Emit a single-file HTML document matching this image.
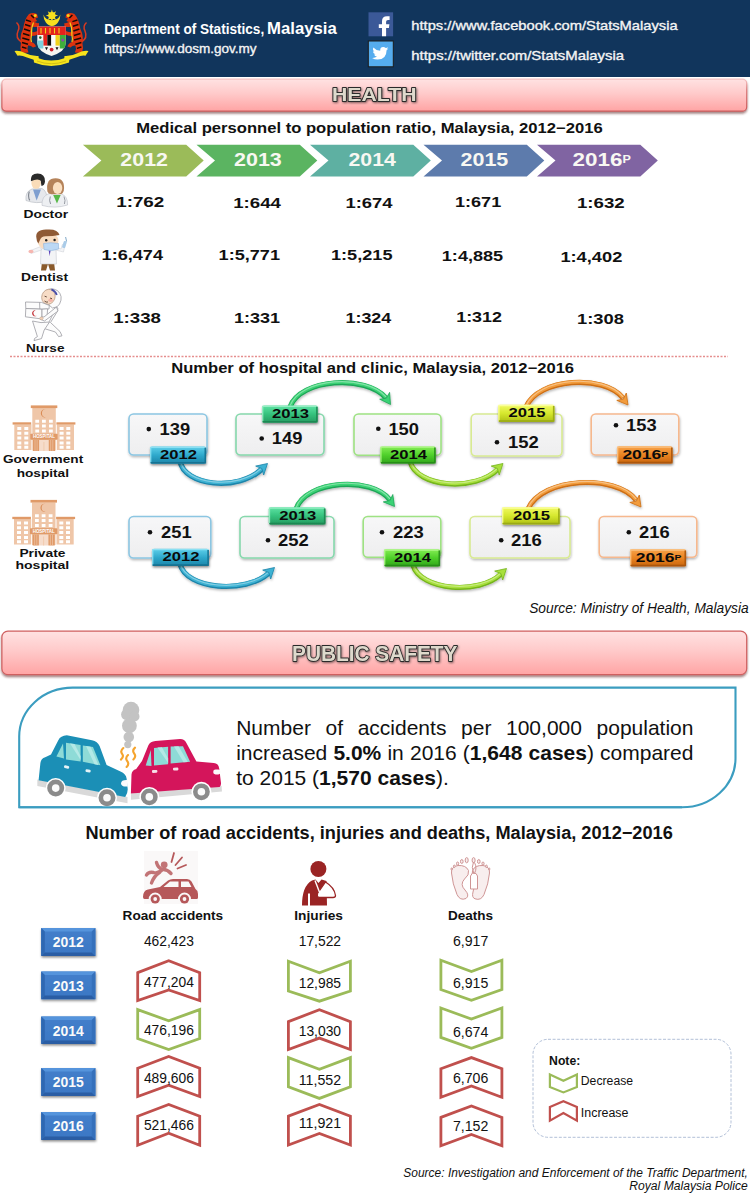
<!DOCTYPE html>
<html lang="en">
<head>
<meta charset="utf-8">
<title>Department of Statistics, Malaysia - Health and Public Safety</title>
<style>
html,body{margin:0;padding:0;background:#fff;}
body{width:750px;height:1200px;overflow:hidden;position:relative;font-family:'Liberation Sans', Arial, sans-serif;}
svg{position:absolute;left:0;top:0;display:block;font-family:'Liberation Sans', Arial, sans-serif;}
svg text{white-space:pre;}
#para{position:absolute;left:236.2px;top:714.5px;width:457.3px;font-size:21px;line-height:25.3px;color:#111;text-align:justify;margin:0;}
#para b{font-weight:bold;}
</style>
</head>
<body>
<svg width="750" height="1200" viewBox="0 0 750 1200">

<defs>
  <linearGradient id="gBanner" x1="0" y1="0" x2="0" y2="1">
    <stop offset="0" stop-color="#ffe2e2"/><stop offset="0.45" stop-color="#ffcaca"/><stop offset="1" stop-color="#ffa4a4"/>
  </linearGradient>
  <linearGradient id="gBannerStroke" x1="0" y1="0" x2="0" y2="1">
    <stop offset="0" stop-color="#f6c4c4"/><stop offset="0.35" stop-color="#dc7c7c"/><stop offset="1" stop-color="#cc5a5a"/>
  </linearGradient>
  <filter id="shBanner" x="-5%" y="-20%" width="110%" height="160%">
    <feDropShadow dx="0" dy="2" stdDeviation="1.2" flood-color="#5a2020" flood-opacity="0.55"/>
  </filter>
  <filter id="shSoft" x="-20%" y="-20%" width="140%" height="160%">
    <feDropShadow dx="0.5" dy="1.5" stdDeviation="1.3" flood-color="#000" flood-opacity="0.28"/>
  </filter>
  <filter id="shTag" x="-20%" y="-30%" width="140%" height="180%">
    <feDropShadow dx="0.5" dy="1.5" stdDeviation="1" flood-color="#000" flood-opacity="0.45"/>
  </filter>
  <filter id="shTxt" x="-20%" y="-30%" width="140%" height="180%">
    <feDropShadow dx="0.8" dy="1" stdDeviation="0.9" flood-color="#000" flood-opacity="0.5"/>
  </filter>
  <filter id="blur05"><feGaussianBlur stdDeviation="0.5"/></filter>
  <filter id="blur1"><feGaussianBlur stdDeviation="1"/></filter>
  <linearGradient id="gBlueTag" x1="0" y1="0" x2="0" y2="1">
    <stop offset="0" stop-color="#5fd0ea"/><stop offset="0.5" stop-color="#2fa9cc"/><stop offset="1" stop-color="#1b84a8"/>
  </linearGradient>
  <linearGradient id="gGreenTag" x1="0" y1="0" x2="0" y2="1">
    <stop offset="0" stop-color="#5fe3a4"/><stop offset="0.5" stop-color="#35c27d"/><stop offset="1" stop-color="#259a60"/>
  </linearGradient>
  <linearGradient id="gLimeTag" x1="0" y1="0" x2="0" y2="1">
    <stop offset="0" stop-color="#86ee55"/><stop offset="0.5" stop-color="#4fd02a"/><stop offset="1" stop-color="#2fa41a"/>
  </linearGradient>
  <linearGradient id="gYellowTag" x1="0" y1="0" x2="0" y2="1">
    <stop offset="0" stop-color="#f2fa62"/><stop offset="0.5" stop-color="#d6e82e"/><stop offset="1" stop-color="#aebf14"/>
  </linearGradient>
  <linearGradient id="gOrangeTag" x1="0" y1="0" x2="0" y2="1">
    <stop offset="0" stop-color="#f8a34a"/><stop offset="0.5" stop-color="#ea8422"/><stop offset="1" stop-color="#c9650e"/>
  </linearGradient>
  <linearGradient id="gBox" x1="0" y1="0" x2="0" y2="1">
    <stop offset="0" stop-color="#f7f7f8"/><stop offset="1" stop-color="#eeeeef"/>
  </linearGradient>
  <linearGradient id="gBtn" x1="0" y1="0" x2="0" y2="1">
    <stop offset="0" stop-color="#447fcb"/><stop offset="1" stop-color="#3a77c4"/>
  </linearGradient>
</defs>
<rect x="0" y="0" width="750" height="77" fill="#11355c"/>
<g id="crest">
<path d="M21.5,42 Q15,38 18,31 Q20.5,26 16.5,22.5" fill="none" stroke="#d83a20" stroke-width="1.5"/>
<path d="M81.5,42 Q88,38 85,31 Q82.5,26 86.5,22.5" fill="none" stroke="#d83a20" stroke-width="1.5"/>
<path d="M29,14 Q33,12 37,14 L38,17.5 L35.5,18.5 L37,21 L34.5,22 Q37,23.5 39,23 L39,26.5 Q35,27.5 32.5,26.5 Q31,29 31.5,32 Q35,32.5 37.5,31 L38.5,34 Q35,36.5 31,36 Q30,39 31.5,42 Q35,43 36,46.5 L33,47.5 Q30.5,45 28,45.5 Q26.5,49 28.5,52.5 L21.5,53 Q19.5,48 21,43 Q19.5,36 23,29 Q24.5,19 29,14 Z" fill="#dc320e"/>
<path d="M26,20 l5,1.6 M25,24.5 l5.5,1.8 M24,29 l6,2 M23,33.5 l6.5,2 M22.3,38 l7,2 M22,42.5 l6,1.8 M22,47 l4.5,1.4 M31,15 l3,3" stroke="#140a06" stroke-width="1.5" fill="none"/>
<path d="M33.5,22.5 Q31,28 31.5,35 Q30.5,39 31.5,42" stroke="#f3d21a" stroke-width="1.1" fill="none"/>
<circle cx="35.2" cy="15.6" r="1.5" fill="#f3d21a"/>
<g transform="translate(103.4,0) scale(-1,1)"><path d="M29,14 Q33,12 37,14 L38,17.5 L35.5,18.5 L37,21 L34.5,22 Q37,23.5 39,23 L39,26.5 Q35,27.5 32.5,26.5 Q31,29 31.5,32 Q35,32.5 37.5,31 L38.5,34 Q35,36.5 31,36 Q30,39 31.5,42 Q35,43 36,46.5 L33,47.5 Q30.5,45 28,45.5 Q26.5,49 28.5,52.5 L21.5,53 Q19.5,48 21,43 Q19.5,36 23,29 Q24.5,19 29,14 Z" fill="#dc320e"/><path d="M26,20 l5,1.6 M25,24.5 l5.5,1.8 M24,29 l6,2 M23,33.5 l6.5,2 M22.3,38 l7,2 M22,42.5 l6,1.8 M22,47 l4.5,1.4 M31,15 l3,3" stroke="#140a06" stroke-width="1.5" fill="none"/><path d="M33.5,22.5 Q31,28 31.5,35 Q30.5,39 31.5,42" stroke="#f3d21a" stroke-width="1.1" fill="none"/><circle cx="35.2" cy="15.6" r="1.5" fill="#f3d21a"/></g>
<path d="M14.5,51 Q19,50 25,53 Q32,56.5 38.5,56 L39,60.5 Q33,60 27,57.5 Q21,55 17.5,55.8 Z" fill="#f6e31c"/>
<path d="M88.5,51 Q84,50 78,53 Q71,56.5 64.5,56 L64,60.5 Q70,60 76,57.5 Q82,55 85.5,55.8 Z" fill="#f6e31c"/>
<path d="M33.5,58 Q34,56.5 36,57.5 Q51,63.5 67,57.5 Q69,56.5 69.5,58 L69,62.5 Q51,69.5 34,62.5 Z" fill="#f6e31c"/>
<path d="M37,61 Q51,66.5 66,61" fill="none" stroke="#b8a410" stroke-width="0.6"/>
<path d="M43.4,14.5 A8.5,11.4 0 0 0 60.4,14.5 A8.8,7.6 0 0 1 43.4,14.5 Z" fill="#f8df1e"/>
<polygon points="51.9,9.6 53,13 56.1,11.2 54.6,14.4 58.1,15.6 54.6,16.8 56.1,20 53,18.4 51.9,21.6 50.8,18.4 47.7,20 49.2,16.8 45.7,15.6 49.2,14.4 47.7,11.2 50.8,13" fill="#f8df1e"/>
<circle cx="51.9" cy="15.6" r="3.6" fill="#f8df1e"/>
<path d="M37.3,26.5 L65.8,26.5 L65.8,43 Q65.5,51.5 51.6,56 Q37.6,51.5 37.3,43 Z" fill="#f7f6f2"/>
<path d="M37.3,26.5 H65.8 V35 H37.3 Z" fill="#e4231c"/>
<path d="M41,28 v5.6 M45.5,28 v5.6 M50,28 v5.6 M54.5,28 v5.6 M59,28 v5.6" stroke="#f2d21c" stroke-width="1.1"/>
<rect x="43.3" y="35" width="4" height="10.6" fill="#e4231c"/><rect x="47.3" y="35" width="4" height="10.6" fill="#0d0d0d"/><rect x="51.3" y="35" width="4.2" height="10.6" fill="#fbfbfb"/><rect x="55.5" y="35" width="4.3" height="10.6" fill="#f2d21c"/>
<path d="M59.8,35 H65.8 V43 Q65.7,46 64,48.5 L59.8,48.5 Z" fill="#3fae3a"/>
<path d="M37.3,40.5 H43.3 V48.5 L39,48.5 Q37.4,46 37.3,43 Z" fill="#7fd0dc"/>
<circle cx="40.3" cy="37.6" r="1.3" fill="#2a6a2a"/><circle cx="62.8" cy="40" r="1.6" fill="#8a4aa8"/>
<path d="M45,47.2 l3,0 l-1.5,3 z M55.5,47.2 l3,0 l-1.5,3 z" fill="#1a1a1a"/><circle cx="51.6" cy="49.6" r="1.9" fill="#d21f2a"/>
</g>
<text x="104.2" y="34.0" font-size="15.08" font-weight="bold" font-style="normal" fill="#fff" textLength="160.0" lengthAdjust="spacingAndGlyphs" >Department of Statistics,</text>
<text x="267.1" y="34.0" font-size="17.16" font-weight="bold" font-style="normal" fill="#fff" textLength="69.7" lengthAdjust="spacingAndGlyphs" >Malaysia</text>
<text x="104.3" y="52.5" font-size="13.0" font-weight="normal" font-style="normal" fill="#f4f4f4" textLength="152.3" lengthAdjust="spacingAndGlyphs" stroke="#f4f4f4" stroke-width="0.35">https://www.dosm.gov.my</text>
<rect x="368.5" y="12.3" width="24.6" height="24" fill="#3b5998"/>
<path d="M382,36.3 V28 H378.8 V24.2 H382 V21.2 Q382,16.3 387,16.3 H389.6 V19.9 H388 Q386.1,19.9 386.1,21.8 V24.2 H389.4 L388.9,28 H386.1 V36.3 Z" fill="#fff"/>
<rect x="368.3" y="41" width="25" height="25.8" fill="#55acee" stroke="#1c1c1c" stroke-width="1"/>
<path d="M388.6,48.6 Q387.6,49.1 386.5,49.2 Q387.7,48.5 388.1,47.2 Q387,47.9 385.8,48.1 Q384.7,47 383.2,47 Q380.2,47 380.2,50 Q380.2,50.4 380.3,50.8 Q376,50.6 373.4,47.5 Q372.2,49.9 374.4,51.6 Q373.6,51.6 372.9,51.2 Q373,53.7 375.5,54.4 Q374.8,54.6 374,54.5 Q374.7,56.5 377,56.6 Q375,58.2 372,58 Q374.6,59.6 377.6,59.6 Q386.5,59.4 386.6,50.2 Q387.8,49.5 388.6,48.6 Z" fill="#fff"/>
<text x="411.3" y="30.2" font-size="13.0" font-weight="normal" font-style="normal" fill="#f4f4f4" textLength="266.3" lengthAdjust="spacingAndGlyphs" stroke="#f4f4f4" stroke-width="0.35">https://www.facebook.com/StatsMalaysia</text>
<text x="411.3" y="59.7" font-size="13.0" font-weight="normal" font-style="normal" fill="#f4f4f4" textLength="212.8" lengthAdjust="spacingAndGlyphs" stroke="#f4f4f4" stroke-width="0.35">https://twitter.com/StatsMalaysia</text>
<rect x="1.9" y="79.1" width="744.8" height="32.0" rx="4.2" fill="url(#gBanner)" stroke="url(#gBannerStroke)" stroke-width="1.2" filter="url(#shBanner)"/>
<text x="332" y="101.2" font-size="19" font-weight="bold" textLength="84.5" lengthAdjust="spacingAndGlyphs" fill="#ded9cc" stroke="#2a2a2a" stroke-width="1.8" paint-order="stroke" stroke-linejoin="round" filter="url(#shTxt)">HEALTH</text>
<text x="136.2" y="132.8" font-size="14.56" font-weight="bold" font-style="normal" fill="#111" textLength="466.5" lengthAdjust="spacingAndGlyphs" >Medical personnel to population ratio, Malaysia, 2012−2016</text>
<polygon points="82.9,144.8 186.2,144.8 203.7,160.6 186.2,176.4 82.9,176.4 101.4,160.6" fill="#9bbb59"/>
<polygon points="196.5,144.8 299.8,144.8 317.3,160.6 299.8,176.4 196.5,176.4 215.0,160.6" fill="#5bb461"/>
<polygon points="310.0,144.8 413.3,144.8 430.8,160.6 413.3,176.4 310.0,176.4 328.5,160.6" fill="#5eb0a2"/>
<polygon points="423.5,144.8 526.8,144.8 544.3,160.6 526.8,176.4 423.5,176.4 442.0,160.6" fill="#5d7bac"/>
<polygon points="537.0,144.8 640.3,144.8 657.8,160.6 640.3,176.4 537.0,176.4 555.5,160.6" fill="#8064a2"/>
<text x="120.3" y="165.9" font-size="17.89" font-weight="bold" font-style="normal" fill="#f8f8f2" textLength="47.7" lengthAdjust="spacingAndGlyphs" >2012</text>
<text x="234.0" y="165.9" font-size="17.89" font-weight="bold" font-style="normal" fill="#f8f8f2" textLength="47.8" lengthAdjust="spacingAndGlyphs" >2013</text>
<text x="348.5" y="165.9" font-size="17.89" font-weight="bold" font-style="normal" fill="#f8f8f2" textLength="47.3" lengthAdjust="spacingAndGlyphs" >2014</text>
<text x="460.5" y="165.9" font-size="17.89" font-weight="bold" font-style="normal" fill="#f8f8f2" textLength="47.8" lengthAdjust="spacingAndGlyphs" >2015</text>
<text x="572.5" y="165.9" font-size="17.89" font-weight="bold" font-style="normal" fill="#f8f8f2" textLength="58.3" lengthAdjust="spacingAndGlyphs" >2016<tspan font-size="10" dy="-2.6">P</tspan></text>
<g id="doctor">
<path d="M26,200.5 Q25,191.5 32,189 L42,188.5 Q47.5,191 47,201 Q37,204.5 26,200.5 Z" fill="#e6e8ec" stroke="#b4b8c0" stroke-width="0.6"/>
<path d="M33,189.5 L36.6,200.5 L41,189.5 Z" fill="#7f9fd0"/>
<path d="M29.3,191.5 Q27.6,197 29.8,200.4" stroke="#7d838d" stroke-width="1.1" fill="none"/>
<path d="M30.8,180.5 Q30.4,173.4 37.5,173.4 Q45.4,173.6 45,181.5 Q44.6,185.6 41.5,186 L40.5,180 Q36,177.6 30.8,180.5 Z" fill="#2b2b2b"/>
<ellipse cx="36.1" cy="183.1" rx="4.7" ry="5.7" fill="#f9dcb8"/>
<path d="M30.9,181.2 Q31,175.5 37.5,175.2 Q42.5,175.6 41.3,181 Q38,177.8 30.9,181.2 Z" fill="#2b2b2b"/>
<path d="M42,205.4 Q41.4,196.2 49,193.6 L60.5,193.4 Q68,196 67.6,205 Q55,209 42,205.4 Z" fill="#edeff2" stroke="#bcc0c8" stroke-width="0.6"/>
<path d="M53.2,194.9 L57,203.6 L60.7,194.9 Z" fill="#58b848"/>
<path d="M50.3,196.5 Q48.8,200.6 50.6,204" stroke="#8d929b" stroke-width="1" fill="none"/><path d="M64,196.5 Q65.8,200.8 64.4,204" stroke="#9a9ea6" stroke-width="1" fill="none"/>
<path d="M47.4,191.5 Q45.5,178.3 55.6,178.3 Q65.4,178.5 63.8,190.5 Q63,194 60,194.2 L51.5,194.2 Q48.2,194 47.4,191.5 Z" fill="#b5835a"/>
<ellipse cx="57.6" cy="188" rx="4.7" ry="5.9" fill="#fbe0c2"/>
</g>
<g id="dentist">
<path d="M42,262 L41,270.5 L46,270.5 L48,264 L50,270.5 L55,270.5 L54,262 Z" fill="#8a5a2b"/>
<path d="M41,249 Q47,246.5 56,249 L56.5,264 L40.5,264 Z" fill="#f3f4f6" stroke="#c8cbd2" stroke-width="0.6"/>
<path d="M41.5,250 L31,253.5 L30.5,250.5 L40,246.8 Z" fill="#f3f4f6" stroke="#c8cbd2" stroke-width="0.5"/>
<path d="M55.5,250 L63.5,252 L65,245 L62.3,244.5 L61,249 L56,247 Z" fill="#f3f4f6" stroke="#c8cbd2" stroke-width="0.5"/>
<ellipse cx="31" cy="251.5" rx="2.6" ry="1.8" fill="#f6b6b0"/>
<path d="M48.6,249.5 L49.6,256 L50.8,249.5 Z" fill="#5a3fb8"/>
<rect x="63" y="241" width="3.2" height="7" rx="1" fill="#a9cbe8" transform="rotate(18 64.5 244)"/>
<path d="M65.6,237 L66.6,241.5" stroke="#7fa8c8" stroke-width="1"/>
<ellipse cx="48" cy="241" rx="10.5" ry="9" fill="#f9dcc0"/>
<path d="M36.5,238.5 Q34.5,230 46,229.6 Q58,228.5 59.5,235 Q53,236.2 45.5,236.2 Q41,236.5 40,240 L38.3,243.5 Q36.6,241.5 36.5,238.5 Z" fill="#8f5a35"/>
<circle cx="46.2" cy="240.3" r="1.2" fill="#222"/><circle cx="54.6" cy="240" r="1.2" fill="#222"/>
<path d="M43.5,243.5 Q51,242 58.5,243.5 L58.6,249 Q51,252 44,249.5 Z" fill="#bcd8f4" stroke="#8fb3dc" stroke-width="0.6"/>
</g>
<g id="nurse" fill="#fcfcfc" stroke="#9c9ca2" stroke-width="0.8" stroke-linejoin="round">
<path d="M56.5,306.5 Q58.5,308 57.6,311 L50.5,322.5 L60,331.5 L62,335.8 L58.6,336.6 L55.4,332 L44,328.5 L49.3,321.6 Z"/>
<path d="M32.5,321 L41,322.6 L49.5,322 L44.2,330 L41.5,338.6 L34,340.6 L34.6,338.4 L37.4,336.6 Z"/>
<path d="M44.5,291.5 Q50.5,286.6 57.5,290.6 Q63.6,296 59.6,304 Q58,307.6 52.5,308 L49,305 Z"/>
<ellipse cx="48.4" cy="296.8" rx="6.6" ry="7.6" fill="#f7dcc6" stroke="#c2a48c" transform="rotate(20 48.4 296.8)"/>
<ellipse cx="50.6" cy="300.2" rx="2.3" ry="1.7" fill="#f4b4a8" stroke="none"/>
<path d="M51.4,289.4 Q55.4,291 56.8,295" stroke="#4a4fa8" stroke-width="1.8" fill="none"/>
<path d="M44.6,296.2 l2.2,0.8 M50,298 l2,0.7 M44.5,301 q1.5,1.6 3.5,1" stroke="#5a4030" stroke-width="0.9" fill="none"/>
<path d="M25.5,302 L41.5,302.4 L49.3,305.4 L49,309 L41.6,309.2 L25.8,308.5 Z"/>
<path d="M39.6,302.3 L39.8,309"/>
<path d="M25.8,308.5 L42,309.2 L42,319 L25.4,316.8 Z"/>
<path d="M42,309.2 L47.6,308.8 L47,317.4 L42,319 Z"/>
<path d="M56.4,307 L58,311 L44.5,321 L40.6,319.4 L41.6,316.8 L44,317 Z"/>
<ellipse cx="41.4" cy="318.4" rx="1.8" ry="1.4" fill="#f2d2b8" stroke="#c2a48c" stroke-width="0.5"/>
<path d="M35.6,310.4 A3,3 0 1 0 36.8,315.8 A2.3,2.3 0 1 1 35.6,310.4 Z" fill="#c4343a" stroke="none"/>
</g>
<text x="116.2" y="206.5" font-size="15.18" font-weight="bold" font-style="normal" fill="#111" textLength="48.1" lengthAdjust="spacingAndGlyphs" >1:762</text>
<text x="233.2" y="207.7" font-size="15.18" font-weight="bold" font-style="normal" fill="#111" textLength="47.7" lengthAdjust="spacingAndGlyphs" >1:644</text>
<text x="345.5" y="207.7" font-size="15.18" font-weight="bold" font-style="normal" fill="#111" textLength="47.0" lengthAdjust="spacingAndGlyphs" >1:674</text>
<text x="455.0" y="206.6" font-size="15.18" font-weight="bold" font-style="normal" fill="#111" textLength="46.2" lengthAdjust="spacingAndGlyphs" >1:671</text>
<text x="577.0" y="208.4" font-size="15.18" font-weight="bold" font-style="normal" fill="#111" textLength="47.7" lengthAdjust="spacingAndGlyphs" >1:632</text>
<text x="101.6" y="259.5" font-size="15.18" font-weight="bold" font-style="normal" fill="#111" textLength="61.4" lengthAdjust="spacingAndGlyphs" >1:6,474</text>
<text x="218.6" y="260.4" font-size="15.18" font-weight="bold" font-style="normal" fill="#111" textLength="61.4" lengthAdjust="spacingAndGlyphs" >1:5,771</text>
<text x="331.0" y="260.4" font-size="15.18" font-weight="bold" font-style="normal" fill="#111" textLength="61.5" lengthAdjust="spacingAndGlyphs" >1:5,215</text>
<text x="441.8" y="260.6" font-size="15.18" font-weight="bold" font-style="normal" fill="#111" textLength="61.4" lengthAdjust="spacingAndGlyphs" >1:4,885</text>
<text x="560.4" y="262.0" font-size="15.18" font-weight="bold" font-style="normal" fill="#111" textLength="61.9" lengthAdjust="spacingAndGlyphs" >1:4,402</text>
<text x="113.2" y="322.7" font-size="15.18" font-weight="bold" font-style="normal" fill="#111" textLength="47.8" lengthAdjust="spacingAndGlyphs" >1:338</text>
<text x="233.9" y="322.9" font-size="15.18" font-weight="bold" font-style="normal" fill="#111" textLength="46.1" lengthAdjust="spacingAndGlyphs" >1:331</text>
<text x="345.5" y="322.9" font-size="15.18" font-weight="bold" font-style="normal" fill="#111" textLength="45.7" lengthAdjust="spacingAndGlyphs" >1:324</text>
<text x="456.2" y="322.3" font-size="15.18" font-weight="bold" font-style="normal" fill="#111" textLength="45.8" lengthAdjust="spacingAndGlyphs" >1:312</text>
<text x="577.0" y="323.7" font-size="15.18" font-weight="bold" font-style="normal" fill="#111" textLength="46.9" lengthAdjust="spacingAndGlyphs" >1:308</text>
<text x="23.4" y="217.8" font-size="11.02" font-weight="bold" font-style="normal" fill="#111" textLength="44.7" lengthAdjust="spacingAndGlyphs" >Doctor</text>
<text x="21.1" y="280.6" font-size="11.02" font-weight="bold" font-style="normal" fill="#111" textLength="47.0" lengthAdjust="spacingAndGlyphs" >Dentist</text>
<text x="25.9" y="351.8" font-size="11.02" font-weight="bold" font-style="normal" fill="#111" textLength="38.6" lengthAdjust="spacingAndGlyphs" >Nurse</text>
<line x1="10" y1="356.5" x2="728" y2="356.5" stroke="#e58e8e" stroke-width="1.5" stroke-dasharray="2 1.5"/>
<text x="171.2" y="373.1" font-size="14.14" font-weight="bold" font-style="normal" fill="#111" textLength="402.9" lengthAdjust="spacingAndGlyphs" >Number of hospital and clinic, Malaysia, 2012−2016</text>
<g transform="translate(12.8,405)">
<path d="M19.5,3 H43 V45.6 H19.5 Z M22.5,14.7 v3 h3.8 v-3 z M29.2,14.7 v3 h3.8 v-3 z M36.2,14.7 v3 h3.8 v-3 z M22.5,19.6 v3 h3.8 v-3 z M29.2,19.6 v3 h3.8 v-3 z M36.2,19.6 v3 h3.8 v-3 z M22.5,24.4 v3 h3.8 v-3 z M29.2,24.4 v3 h3.8 v-3 z M36.2,24.4 v3 h3.8 v-3 z " fill="#efc6a8" fill-rule="evenodd"/>
<rect x="18" y="0.4" width="26.5" height="2.7" fill="#e09a68"/>
<path d="M33,4.3 A4.1,4.1 0 1 0 33,12.3 A3,3.1 0 1 1 33,4.3 Z" fill="#d98b55"/>
<path d="M1.5,19.6 h17.2 v25.3 h-17.2 z M4.5,22 v3 h4 v-3 z M11.5,22 v3 h4 v-3 z M4.5,26.7 v3 h4 v-3 z M11.5,26.7 v3 h4 v-3 z M4.5,31.6 v3 h4 v-3 z M11.5,31.6 v3 h4 v-3 z M4.5,36.4 v3 h4 v-3 z M11.5,36.4 v3 h4 v-3 z M4.5,40.7 v3 h4 v-3 z M11.5,40.7 v3 h4 v-3 z " fill="#efc6a8" fill-rule="evenodd"/>
<path d="M44,19.6 h17.2 v25.3 h-17.2 z M46.8,22 v3 h4 v-3 z M53.5,22 v3 h4 v-3 z M46.8,26.7 v3 h4 v-3 z M53.5,26.7 v3 h4 v-3 z M46.8,31.6 v3 h4 v-3 z M53.5,31.6 v3 h4 v-3 z M46.8,36.4 v3 h4 v-3 z M53.5,36.4 v3 h4 v-3 z M46.8,40.7 v3 h4 v-3 z M53.5,40.7 v3 h4 v-3 z " fill="#efc6a8" fill-rule="evenodd"/>
<rect x="-0.2" y="17.3" width="18.6" height="2.3" fill="#e09a68"/><rect x="43.6" y="17.3" width="19" height="2.3" fill="#e09a68"/>
<rect x="20.2" y="35" width="6.2" height="11" fill="#e09a68"/><rect x="35.8" y="35" width="6.4" height="11" fill="#e09a68"/>
<path d="M22.2,35 v11 M24.3,35 v11 M37.9,35 v11 M40,35 v11" stroke="#efc6a8" stroke-width="0.7"/>
<rect x="26.4" y="35" width="9.4" height="11" fill="#f6dccb"/><path d="M31.1,37 v9" stroke="#efc6a8" stroke-width="0.8"/>
<rect x="17.5" y="28.7" width="27.3" height="6" rx="0.8" fill="#e09a68"/>
<text x="31.2" y="33.4" font-size="4.6" font-weight="bold" text-anchor="middle" fill="#fff" textLength="22" lengthAdjust="spacingAndGlyphs">HOSPITAL</text>
</g>
<text x="2.9" y="463.4" font-size="11.02" font-weight="bold" font-style="normal" fill="#111" textLength="80.3" lengthAdjust="spacingAndGlyphs" >Government</text>
<text x="16.7" y="476.7" font-size="11.02" font-weight="bold" font-style="normal" fill="#111" textLength="52.3" lengthAdjust="spacingAndGlyphs" >hospital</text>
<g transform="translate(12.5,499.5)">
<path d="M19.5,3 H43 V45.6 H19.5 Z M22.5,14.7 v3 h3.8 v-3 z M29.2,14.7 v3 h3.8 v-3 z M36.2,14.7 v3 h3.8 v-3 z M22.5,19.6 v3 h3.8 v-3 z M29.2,19.6 v3 h3.8 v-3 z M36.2,19.6 v3 h3.8 v-3 z M22.5,24.4 v3 h3.8 v-3 z M29.2,24.4 v3 h3.8 v-3 z M36.2,24.4 v3 h3.8 v-3 z " fill="#efc6a8" fill-rule="evenodd"/>
<rect x="18" y="0.4" width="26.5" height="2.7" fill="#e09a68"/>
<path d="M33,4.3 A4.1,4.1 0 1 0 33,12.3 A3,3.1 0 1 1 33,4.3 Z" fill="#d98b55"/>
<path d="M1.5,19.6 h17.2 v25.3 h-17.2 z M4.5,22 v3 h4 v-3 z M11.5,22 v3 h4 v-3 z M4.5,26.7 v3 h4 v-3 z M11.5,26.7 v3 h4 v-3 z M4.5,31.6 v3 h4 v-3 z M11.5,31.6 v3 h4 v-3 z M4.5,36.4 v3 h4 v-3 z M11.5,36.4 v3 h4 v-3 z M4.5,40.7 v3 h4 v-3 z M11.5,40.7 v3 h4 v-3 z " fill="#efc6a8" fill-rule="evenodd"/>
<path d="M44,19.6 h17.2 v25.3 h-17.2 z M46.8,22 v3 h4 v-3 z M53.5,22 v3 h4 v-3 z M46.8,26.7 v3 h4 v-3 z M53.5,26.7 v3 h4 v-3 z M46.8,31.6 v3 h4 v-3 z M53.5,31.6 v3 h4 v-3 z M46.8,36.4 v3 h4 v-3 z M53.5,36.4 v3 h4 v-3 z M46.8,40.7 v3 h4 v-3 z M53.5,40.7 v3 h4 v-3 z " fill="#efc6a8" fill-rule="evenodd"/>
<rect x="-0.2" y="17.3" width="18.6" height="2.3" fill="#e09a68"/><rect x="43.6" y="17.3" width="19" height="2.3" fill="#e09a68"/>
<rect x="20.2" y="35" width="6.2" height="11" fill="#e09a68"/><rect x="35.8" y="35" width="6.4" height="11" fill="#e09a68"/>
<path d="M22.2,35 v11 M24.3,35 v11 M37.9,35 v11 M40,35 v11" stroke="#efc6a8" stroke-width="0.7"/>
<rect x="26.4" y="35" width="9.4" height="11" fill="#f6dccb"/><path d="M31.1,37 v9" stroke="#efc6a8" stroke-width="0.8"/>
<rect x="17.5" y="28.7" width="27.3" height="6" rx="0.8" fill="#e09a68"/>
<text x="31.2" y="33.4" font-size="4.6" font-weight="bold" text-anchor="middle" fill="#fff" textLength="22" lengthAdjust="spacingAndGlyphs">HOSPITAL</text>
</g>
<text x="19.4" y="556.8" font-size="11.02" font-weight="bold" font-style="normal" fill="#111" textLength="46.1" lengthAdjust="spacingAndGlyphs" >Private</text>
<text x="15.4" y="568.8" font-size="11.02" font-weight="bold" font-style="normal" fill="#111" textLength="53.9" lengthAdjust="spacingAndGlyphs" >hospital</text>
<g filter="url(#shSoft)"><path d="M180,461 C184,486 238,492 262,469" fill="none" stroke="#1d84a9" stroke-width="5.2" stroke-linecap="butt"/><path d="M180,461 C184,486 238,492 262,469" fill="none" stroke="#3db2d3" stroke-width="3.4" stroke-linecap="butt" transform="translate(0,-0.6)"/><path d="M180,461 C184,486 238,492 262,469" fill="none" stroke="#ffffff" stroke-width="1.1" stroke-linecap="butt" opacity="0.38" transform="translate(0,-1.1)"/><polygon points="267.5,463.5 255.7,466.1 261.9,468.5 263.7,475.0" fill="#3db2d3" stroke="#1d84a9" stroke-width="0.8"/>
</g>
<g filter="url(#shSoft)"><path d="M290,407 C300,378.5 366,374.5 386,398" fill="none" stroke="#1fa558" stroke-width="5.2" stroke-linecap="butt"/><path d="M290,407 C300,378.5 366,374.5 386,398" fill="none" stroke="#3ad274" stroke-width="3.4" stroke-linecap="butt" transform="translate(0,-0.6)"/><path d="M290,407 C300,378.5 366,374.5 386,398" fill="none" stroke="#ffffff" stroke-width="1.1" stroke-linecap="butt" opacity="0.38" transform="translate(0,-1.1)"/><polygon points="390.5,404.5 389.6,392.4 386.3,398.3 379.7,399.2" fill="#3ad274" stroke="#1fa558" stroke-width="0.8"/>
</g>
<g filter="url(#shSoft)"><path d="M410,461 C416,488 476,492 498,469" fill="none" stroke="#74b41c" stroke-width="5.2" stroke-linecap="butt"/><path d="M410,461 C416,488 476,492 498,469" fill="none" stroke="#a8e03c" stroke-width="3.4" stroke-linecap="butt" transform="translate(0,-0.6)"/><path d="M410,461 C416,488 476,492 498,469" fill="none" stroke="#ffffff" stroke-width="1.1" stroke-linecap="butt" opacity="0.38" transform="translate(0,-1.1)"/><polygon points="503.0,463.5 491.2,466.1 497.4,468.5 499.2,475.0" fill="#a8e03c" stroke="#74b41c" stroke-width="0.8"/>
</g>
<g filter="url(#shSoft)"><path d="M526,407 C538,378 604,374 623,398" fill="none" stroke="#cc6e16" stroke-width="5.2" stroke-linecap="butt"/><path d="M526,407 C538,378 604,374 623,398" fill="none" stroke="#f29c3c" stroke-width="3.4" stroke-linecap="butt" transform="translate(0,-0.6)"/><path d="M526,407 C538,378 604,374 623,398" fill="none" stroke="#ffffff" stroke-width="1.1" stroke-linecap="butt" opacity="0.38" transform="translate(0,-1.1)"/><polygon points="628.0,405.0 626.3,393.0 623.4,399.1 616.8,400.4" fill="#f29c3c" stroke="#cc6e16" stroke-width="0.8"/>
</g>
<rect x="129" y="414" width="78" height="41" rx="4.5" fill="url(#gBox)" stroke="#8cc6e2" stroke-width="1.6" filter="url(#shSoft)"/>
<rect x="236" y="414" width="88" height="41" rx="4.5" fill="url(#gBox)" stroke="#86d8ac" stroke-width="1.6" filter="url(#shSoft)"/>
<rect x="354" y="414" width="87" height="41.30000000000001" rx="4.5" fill="url(#gBox)" stroke="#9ee283" stroke-width="1.6" filter="url(#shSoft)"/>
<rect x="471.2" y="414" width="90.80000000000001" height="42" rx="4.5" fill="url(#gBox)" stroke="#d8ea92" stroke-width="1.6" filter="url(#shSoft)"/>
<rect x="591.2" y="414" width="87.59999999999991" height="41" rx="4.5" fill="url(#gBox)" stroke="#f6b88e" stroke-width="1.6" filter="url(#shSoft)"/>
<circle cx="148.8" cy="429.1" r="2.3" fill="#111"/>
<text x="159.6" y="434.8" font-size="15.6" font-weight="bold" font-style="normal" fill="#111" textLength="30.6" lengthAdjust="spacingAndGlyphs" >139</text>
<circle cx="261.7" cy="438.5" r="2.3" fill="#111"/>
<text x="271.8" y="444.2" font-size="15.6" font-weight="bold" font-style="normal" fill="#111" textLength="30.6" lengthAdjust="spacingAndGlyphs" >149</text>
<circle cx="378.3" cy="428.8" r="2.3" fill="#111"/>
<text x="388.4" y="434.5" font-size="15.6" font-weight="bold" font-style="normal" fill="#111" textLength="30.6" lengthAdjust="spacingAndGlyphs" >150</text>
<circle cx="497" cy="442.3" r="2.3" fill="#111"/>
<text x="507.9" y="448.0" font-size="15.6" font-weight="bold" font-style="normal" fill="#111" textLength="30.8" lengthAdjust="spacingAndGlyphs" >152</text>
<circle cx="616" cy="425.3" r="2.3" fill="#111"/>
<text x="626.1" y="431.0" font-size="15.6" font-weight="bold" font-style="normal" fill="#111" textLength="30.6" lengthAdjust="spacingAndGlyphs" >153</text>
<g filter="url(#shTag)"><rect x="150" y="446.5" width="56.0" height="17.2" rx="2" fill="url(#gBlueTag)"/><path d="M150.7,462.5 V447.3 H205.3" fill="none" stroke="#8fe2f4" stroke-width="1.3" opacity="0.9"/><path d="M150.8,462.8 H205.3 V447.7" fill="none" stroke="#15708f" stroke-width="1.6" opacity="0.9"/></g>
<text x="160.1" y="459.1" font-size="13.52" font-weight="bold" font-style="normal" fill="#0a0a0a" textLength="37.0" lengthAdjust="spacingAndGlyphs" >2012</text>
<g filter="url(#shTag)"><rect x="262" y="405.5" width="55.6" height="17.2" rx="2" fill="url(#gGreenTag)"/><path d="M262.7,421.5 V406.3 H316.90000000000003" fill="none" stroke="#9af0c6" stroke-width="1.3" opacity="0.9"/><path d="M262.8,421.8 H316.90000000000003 V406.7" fill="none" stroke="#1d8550" stroke-width="1.6" opacity="0.9"/></g>
<text x="271.9" y="418.1" font-size="13.52" font-weight="bold" font-style="normal" fill="#0a0a0a" textLength="37.0" lengthAdjust="spacingAndGlyphs" >2013</text>
<g filter="url(#shTag)"><rect x="380.2" y="446.4" width="55.4" height="17.2" rx="2" fill="url(#gLimeTag)"/><path d="M380.9,462.4 V447.2 H434.90000000000003" fill="none" stroke="#b6f890" stroke-width="1.3" opacity="0.9"/><path d="M381.0,462.7 H434.90000000000003 V447.6" fill="none" stroke="#26891a" stroke-width="1.6" opacity="0.9"/></g>
<text x="390.0" y="459.0" font-size="13.52" font-weight="bold" font-style="normal" fill="#0a0a0a" textLength="37.0" lengthAdjust="spacingAndGlyphs" >2014</text>
<g filter="url(#shTag)"><rect x="498.2" y="404.7" width="56.2" height="17.2" rx="2" fill="url(#gYellowTag)"/><path d="M498.9,420.7 V405.5 H553.6999999999999" fill="none" stroke="#fbffa0" stroke-width="1.3" opacity="0.9"/><path d="M499.0,421.0 H553.6999999999999 V405.9" fill="none" stroke="#97a612" stroke-width="1.6" opacity="0.9"/></g>
<text x="508.4" y="417.3" font-size="13.52" font-weight="bold" font-style="normal" fill="#0a0a0a" textLength="37.0" lengthAdjust="spacingAndGlyphs" >2015</text>
<g filter="url(#shTag)"><rect x="617" y="446.3" width="55.5" height="17.2" rx="2" fill="url(#gOrangeTag)"/><path d="M617.7,462.3 V447.1 H671.8" fill="none" stroke="#fcc588" stroke-width="1.3" opacity="0.9"/><path d="M617.8,462.6 H671.8 V447.5" fill="none" stroke="#a8540a" stroke-width="1.6" opacity="0.9"/></g>
<text x="622.4" y="458.9" font-size="13.52" font-weight="bold" font-style="normal" fill="#0a0a0a" textLength="45.8" lengthAdjust="spacingAndGlyphs" >2016<tspan font-size="8" dy="-2">P</tspan></text>
<g filter="url(#shSoft)"><path d="M180,564 C186,590 246,594 269,573" fill="none" stroke="#1d84a9" stroke-width="5.2" stroke-linecap="butt"/><path d="M180,564 C186,590 246,594 269,573" fill="none" stroke="#3db2d3" stroke-width="3.4" stroke-linecap="butt" transform="translate(0,-0.6)"/><path d="M180,564 C186,590 246,594 269,573" fill="none" stroke="#ffffff" stroke-width="1.1" stroke-linecap="butt" opacity="0.38" transform="translate(0,-1.1)"/><polygon points="274.5,567.5 262.7,570.1 268.9,572.5 270.7,579.0" fill="#3db2d3" stroke="#1d84a9" stroke-width="0.8"/>
</g>
<g filter="url(#shSoft)"><path d="M296,509 C306,480 372,476 390,500" fill="none" stroke="#1fa558" stroke-width="5.2" stroke-linecap="butt"/><path d="M296,509 C306,480 372,476 390,500" fill="none" stroke="#3ad274" stroke-width="3.4" stroke-linecap="butt" transform="translate(0,-0.6)"/><path d="M296,509 C306,480 372,476 390,500" fill="none" stroke="#ffffff" stroke-width="1.1" stroke-linecap="butt" opacity="0.38" transform="translate(0,-1.1)"/><polygon points="394.5,506.5 392.8,494.5 389.9,500.6 383.3,501.9" fill="#3ad274" stroke="#1fa558" stroke-width="0.8"/>
</g>
<g filter="url(#shSoft)"><path d="M413,565 C420,591 480,595 501,574" fill="none" stroke="#74b41c" stroke-width="5.2" stroke-linecap="butt"/><path d="M413,565 C420,591 480,595 501,574" fill="none" stroke="#a8e03c" stroke-width="3.4" stroke-linecap="butt" transform="translate(0,-0.6)"/><path d="M413,565 C420,591 480,595 501,574" fill="none" stroke="#ffffff" stroke-width="1.1" stroke-linecap="butt" opacity="0.38" transform="translate(0,-1.1)"/><polygon points="506.5,568.5 494.7,571.1 500.9,573.5 502.7,580.0" fill="#a8e03c" stroke="#74b41c" stroke-width="0.8"/>
</g>
<g filter="url(#shSoft)"><path d="M528,509 C542,477 616,474 636,500" fill="none" stroke="#cc6e16" stroke-width="5.2" stroke-linecap="butt"/><path d="M528,509 C542,477 616,474 636,500" fill="none" stroke="#f29c3c" stroke-width="3.4" stroke-linecap="butt" transform="translate(0,-0.6)"/><path d="M528,509 C542,477 616,474 636,500" fill="none" stroke="#ffffff" stroke-width="1.1" stroke-linecap="butt" opacity="0.38" transform="translate(0,-1.1)"/><polygon points="641.0,507.0 639.3,495.0 636.4,501.1 629.8,502.4" fill="#f29c3c" stroke="#cc6e16" stroke-width="0.8"/>
</g>
<rect x="129" y="516.5" width="81.80000000000001" height="41.5" rx="4.5" fill="url(#gBox)" stroke="#8cc6e2" stroke-width="1.6" filter="url(#shSoft)"/>
<rect x="240" y="516.5" width="94" height="41.5" rx="4.5" fill="url(#gBox)" stroke="#86d8ac" stroke-width="1.6" filter="url(#shSoft)"/>
<rect x="363.2" y="516.5" width="77.60000000000002" height="40.799999999999955" rx="4.5" fill="url(#gBox)" stroke="#9ee283" stroke-width="1.6" filter="url(#shSoft)"/>
<rect x="470" y="516.5" width="100" height="41.5" rx="4.5" fill="url(#gBox)" stroke="#d8ea92" stroke-width="1.6" filter="url(#shSoft)"/>
<rect x="599.2" y="516.5" width="97.59999999999991" height="40.799999999999955" rx="4.5" fill="url(#gBox)" stroke="#f6b88e" stroke-width="1.6" filter="url(#shSoft)"/>
<circle cx="150" cy="532.3" r="2.3" fill="#111"/>
<text x="161.1" y="538.0" font-size="15.6" font-weight="bold" font-style="normal" fill="#111" textLength="30.6" lengthAdjust="spacingAndGlyphs" >251</text>
<circle cx="268" cy="540.3" r="2.3" fill="#111"/>
<text x="277.9" y="546.0" font-size="15.6" font-weight="bold" font-style="normal" fill="#111" textLength="30.8" lengthAdjust="spacingAndGlyphs" >252</text>
<circle cx="382" cy="532.3" r="2.3" fill="#111"/>
<text x="393.1" y="538.0" font-size="15.6" font-weight="bold" font-style="normal" fill="#111" textLength="30.8" lengthAdjust="spacingAndGlyphs" >223</text>
<circle cx="501.2" cy="540.3" r="2.3" fill="#111"/>
<text x="511.1" y="546.0" font-size="15.6" font-weight="bold" font-style="normal" fill="#111" textLength="30.8" lengthAdjust="spacingAndGlyphs" >216</text>
<circle cx="628.8" cy="532.3" r="2.3" fill="#111"/>
<text x="639.1" y="538.0" font-size="15.6" font-weight="bold" font-style="normal" fill="#111" textLength="30.6" lengthAdjust="spacingAndGlyphs" >216</text>
<g filter="url(#shTag)"><rect x="152" y="548.8" width="56.8" height="17.2" rx="2" fill="url(#gBlueTag)"/><path d="M152.7,564.8 V549.6 H208.10000000000002" fill="none" stroke="#8fe2f4" stroke-width="1.3" opacity="0.9"/><path d="M152.8,565.1 H208.10000000000002 V550.0" fill="none" stroke="#15708f" stroke-width="1.6" opacity="0.9"/></g>
<text x="162.5" y="561.4" font-size="13.52" font-weight="bold" font-style="normal" fill="#0a0a0a" textLength="37.0" lengthAdjust="spacingAndGlyphs" >2012</text>
<g filter="url(#shTag)"><rect x="268.8" y="507.3" width="56.6" height="17.2" rx="2" fill="url(#gGreenTag)"/><path d="M269.5,523.3 V508.1 H324.7" fill="none" stroke="#9af0c6" stroke-width="1.3" opacity="0.9"/><path d="M269.6,523.6 H324.7 V508.5" fill="none" stroke="#1d8550" stroke-width="1.6" opacity="0.9"/></g>
<text x="279.2" y="519.9" font-size="13.52" font-weight="bold" font-style="normal" fill="#0a0a0a" textLength="37.0" lengthAdjust="spacingAndGlyphs" >2013</text>
<g filter="url(#shTag)"><rect x="384" y="549.2" width="56.0" height="17.2" rx="2" fill="url(#gLimeTag)"/><path d="M384.7,565.2 V550.0 H439.3" fill="none" stroke="#b6f890" stroke-width="1.3" opacity="0.9"/><path d="M384.8,565.5 H439.3 V550.4" fill="none" stroke="#26891a" stroke-width="1.6" opacity="0.9"/></g>
<text x="394.1" y="561.8" font-size="13.52" font-weight="bold" font-style="normal" fill="#0a0a0a" textLength="37.0" lengthAdjust="spacingAndGlyphs" >2014</text>
<g filter="url(#shTag)"><rect x="502" y="507.2" width="57.6" height="17.2" rx="2" fill="url(#gYellowTag)"/><path d="M502.7,523.2 V508.0 H558.9" fill="none" stroke="#fbffa0" stroke-width="1.3" opacity="0.9"/><path d="M502.8,523.5 H558.9 V508.4" fill="none" stroke="#97a612" stroke-width="1.6" opacity="0.9"/></g>
<text x="512.9" y="519.8" font-size="13.52" font-weight="bold" font-style="normal" fill="#0a0a0a" textLength="37.0" lengthAdjust="spacingAndGlyphs" >2015</text>
<g filter="url(#shTag)"><rect x="630" y="549.2" width="56.0" height="17.2" rx="2" fill="url(#gOrangeTag)"/><path d="M630.7,565.2 V550.0 H685.3" fill="none" stroke="#fcc588" stroke-width="1.3" opacity="0.9"/><path d="M630.8,565.5 H685.3 V550.4" fill="none" stroke="#a8540a" stroke-width="1.6" opacity="0.9"/></g>
<text x="635.7" y="561.8" font-size="13.52" font-weight="bold" font-style="normal" fill="#0a0a0a" textLength="45.8" lengthAdjust="spacingAndGlyphs" >2016<tspan font-size="8" dy="-2">P</tspan></text>
<text x="529.2" y="613.3" font-size="14.56" font-weight="normal" font-style="italic" fill="#111" textLength="219.5" lengthAdjust="spacingAndGlyphs" >Source: Ministry of Health, Malaysia</text>
<rect x="1.9" y="631.1" width="744.8" height="43.60000000000002" rx="6" fill="url(#gBanner)" stroke="#cf6060" stroke-width="1.2" filter="url(#shBanner)"/>
<text x="292" y="661.2" font-size="22" font-weight="bold" textLength="165.5" lengthAdjust="spacingAndGlyphs" fill="#ded9cc" stroke="#2a2a2a" stroke-width="1.8" paint-order="stroke" stroke-linejoin="round" filter="url(#shTxt)">PUBLIC SAFETY</text>
<path d="M19.2,807.3 V736.5 A53.5,49 0 0 1 72.7,687.6 H735.5 V758.5 A53.5,49 0 0 1 682,807.3 Z" fill="#fff" stroke="#3b9dc0" stroke-width="2.1"/>
<polygon points="37.3,779.5 127.5,797 127.5,803.2 37.3,786" fill="#d9d9d9"/>
<polygon points="131,793.5 221.6,786 222,791.6 131,799.8" fill="#d9d9d9"/>
<g fill="#c3c3c3"><circle cx="131" cy="710" r="8.3"/><circle cx="126.6" cy="714.5" r="5.5"/><circle cx="134.5" cy="716.5" r="5"/><circle cx="129.4" cy="725.8" r="7.4"/><circle cx="128.8" cy="737" r="5.3"/><circle cx="127.8" cy="744.6" r="3.6"/></g>
<path d="M123.3,748 q-3.4,2.9 -1.2,5.8 q2.2,2.9 -1.2,5.8 M128,755 q-3.2,3 -0.8,6 q2.4,3 -0.6,6 M135,747.6 q-3.2,2.9 -0.8,5.9 q2.4,3 -0.8,6" fill="none" stroke="#f5a42e" stroke-width="2.1" stroke-linecap="round"/>
<path d="M38.6,780.2 L40.4,763 Q41,758.3 45.2,757.2 L51,754.6 L58.3,740.2 Q60.6,735.6 66.8,735.3 L92,740.2 Q97.6,741.4 99.6,746 L106.6,765 L120.5,771.4 Q126,773.6 126.6,778.6 L127.7,789 Q127.9,793.4 125.2,797 Z" fill="#1b8fb6"/>
<polygon points="56.4,756.6 63,743.6 64,758.6" fill="#8edbd7"/>
<polygon points="66,742.8 80.6,745 80.6,761.6 66,759.4" fill="#8edbd7"/><polygon points="70,743.4 74.5,744.1 80.6,756 80.6,760 " fill="#b4e9e6"/>
<polygon points="82.8,745.6 93,747 100.4,765.3 82.8,761.8" fill="#8edbd7"/><polygon points="86,746 90.5,746.7 98.4,764.9 94.5,764.2" fill="#b4e9e6"/>
<rect x="64" y="765.6" width="5.2" height="2.8" rx="1.1" fill="#e6f3f7" transform="rotate(10.6 66.5 767)"/><rect x="85.5" y="769.4" width="5.2" height="2.8" rx="1.1" fill="#e6f3f7" transform="rotate(10.6 88 770.8)"/>
<path d="M127.4,780 Q121.2,779.6 121,783.4 Q121.2,787 127.8,786.4 Z" fill="#fbfbfb"/>
<circle cx="55.7" cy="788.1" r="10" fill="#fff"/><circle cx="55.7" cy="788.1" r="8.5" fill="#8b8b8b"/><circle cx="55.7" cy="788.1" r="3.8" fill="#fbfbfb"/>
<circle cx="107" cy="797.7" r="10" fill="#fff"/><circle cx="107" cy="797.7" r="8.5" fill="#8b8b8b"/><circle cx="107" cy="797.7" r="3.8" fill="#fbfbfb"/>
<path d="M130.9,793.6 L131.5,774.5 Q131.9,770 136.2,768.9 L142,761 L148.4,745.2 Q150.2,741.5 155.4,741.1 L180,739 Q184.6,738.9 186.4,743 L196.4,761.6 L213.8,763.1 Q218.6,763.6 219.2,768.4 L221,783 Q221.2,785.8 219.6,786.9 Z" fill="#d4155b"/>
<polygon points="145.7,765.4 150.8,750 151.5,766.1" fill="#8edbd7"/>
<polygon points="154,747.9 168.1,746.8 168.1,764.2 154,765.4" fill="#8edbd7"/><polygon points="157.5,747.6 162,747.3 168.1,758.6 168.1,763" fill="#b4e9e6"/>
<polygon points="170.6,746.6 183,746.2 190.1,761.7 170.6,763.6" fill="#8edbd7"/><polygon points="174,746.5 178.5,746.3 187.8,761.9 183.6,762.3" fill="#b4e9e6"/>
<rect x="152" y="770" width="5.4" height="2.8" rx="1.1" fill="#f7dfe8" transform="rotate(-4.3 154.7 771.4)"/><rect x="173" y="767.7" width="5.4" height="2.8" rx="1.1" fill="#f7dfe8" transform="rotate(-4.3 175.7 769.1)"/>
<rect x="213.2" y="769.6" width="7.4" height="4.8" rx="2.3" fill="#fbfbfb"/>
<circle cx="149.3" cy="796.9" r="10" fill="#fff"/><circle cx="149.3" cy="796.9" r="8.4" fill="#8b8b8b"/><circle cx="149.3" cy="796.9" r="3.8" fill="#fbfbfb"/>
<circle cx="201.4" cy="791.8" r="10" fill="#fff"/><circle cx="201.4" cy="791.8" r="8.4" fill="#8b8b8b"/><circle cx="201.4" cy="791.8" r="3.8" fill="#fbfbfb"/>
<path d="M19.2,807.3 H682" fill="none" stroke="#3b9dc0" stroke-width="2.1"/>
<text x="85.5" y="838.6" font-size="17.68" font-weight="bold" font-style="normal" fill="#111" textLength="587.3" lengthAdjust="spacingAndGlyphs" >Number of road accidents, injuries and deaths, Malaysia, 2012−2016</text>
<rect x="144" y="851" width="54" height="53" fill="#faf8f8"/>
<g fill="#b6585a"><path d="M143,897 Q143,890.5 148,889.5 L160,887 L168,880.5 Q170,879 173,879 L187,879 Q190,879 191.5,881.5 L195.5,889 Q198,890.5 198,894 L198,897.5 Q198,899 196.5,899 L191,899 A6.5,6.5 0 0 0 178,899 L161.7,899 A6.5,6.5 0 0 0 148.7,899 L144.5,899 Q143,899 143,897 Z M163.5,887 L170,881.5 L178.5,881.5 L178.5,887 Z M181,881.5 L188.5,881.5 L191.5,887 L181,887 Z" fill-rule="evenodd"/><circle cx="155.2" cy="899" r="4.6"/><circle cx="184.5" cy="899" r="4.6"/></g><circle cx="155.2" cy="899" r="1.9" fill="#faf8f8"/><circle cx="184.5" cy="899" r="1.9" fill="#faf8f8"/>
<circle cx="164.2" cy="864.8" r="3.4" fill="#c27476"/>
<path d="M156.5,862.5 Q158,868 162.5,869.5 Q158,874 153.5,872.5 Q148.5,871.5 146.5,875 M162.5,869.5 Q167,869 171,873.5 M160,872 Q154,876 151.5,883" fill="none" stroke="#c27476" stroke-width="3.4" stroke-linecap="round" stroke-linejoin="round"/>
<path d="M171.5,862 L174,853 M175.5,865 L182,857.5 M177.5,868.5 L186,865" stroke="#b6585a" stroke-width="1.8" stroke-linecap="round"/>
<circle cx="318.4" cy="869" r="8" fill="#9a2424"/>
<path d="M302,905.5 Q302,886 312,880.5 L315.5,879.5 L318.5,883 L321.5,879.5 L326.5,881 L327,905.5 L310,905.5 L310,893.5 L308,893.5 L308,905.5 Z" fill="#9a2424"/>
<path d="M325.5,882 Q334.5,887.5 335.5,895.5 Q335.5,897.5 333,897.5 L319,897.5 Q316.5,896.5 317.5,893.5 Z" fill="#fff" stroke="#9a2424" stroke-width="1.3" stroke-linejoin="round"/>
<path d="M315,880.5 L320,893.5" stroke="#fff" stroke-width="1.4"/>
<g fill="#f8eeee" stroke="#cf9595" stroke-width="1"><path d="M451.5,873 Q451,866.5 458,865.5 Q466,865 468.5,870.5 Q469.5,875 464.5,879 Q459.5,884.5 465,890 Q470,895.5 466,898.5 Q460,901 457,894.5 Q452.5,884 451.5,873 Z"/><path d="M489.5,873 Q490,866.5 483,865.5 Q475,865 472.5,870.5 Q471.5,875 473.5,880 Q475.5,886 473,892 Q471.5,897.5 475,898.8 Q481,901 484,894.5 Q488.5,884 489.5,873 Z"/><ellipse cx="466.7" cy="860.2" rx="1.5" ry="2.6"/><ellipse cx="461.8" cy="861.5" rx="1.3" ry="2.0"/><ellipse cx="457.6" cy="863.6" rx="1.1" ry="1.6"/><ellipse cx="454.3" cy="866.3" rx="0.9" ry="1.2"/><ellipse cx="451.6" cy="869" rx="0.7" ry="1.0"/><ellipse cx="473.6" cy="860.2" rx="1.5" ry="2.6"/><ellipse cx="478.8" cy="861.5" rx="1.3" ry="2.0"/><ellipse cx="483" cy="863.6" rx="1.1" ry="1.6"/><ellipse cx="486.4" cy="866.3" rx="0.9" ry="1.2"/><ellipse cx="489.2" cy="869" rx="0.7" ry="1.0"/><path d="M470.5,876 L472.5,873 L476,873.5 L477.5,876 L477.5,889 L470.5,889 Z" fill="#fff"/><path d="M473.8,873.5 Q471,867 473.5,862 M474.4,873.5 Q477.5,868 474.5,862.5" fill="none"/></g>
<text x="122.6" y="920.0" font-size="13.52" font-weight="bold" font-style="normal" fill="#111" textLength="100.6" lengthAdjust="spacingAndGlyphs" >Road accidents</text>
<text x="294.3" y="919.8" font-size="13.52" font-weight="bold" font-style="normal" fill="#111" textLength="48.7" lengthAdjust="spacingAndGlyphs" >Injuries</text>
<text x="448.0" y="919.8" font-size="13.52" font-weight="bold" font-style="normal" fill="#111" textLength="45.1" lengthAdjust="spacingAndGlyphs" >Deaths</text>
<g filter="url(#shTag)"><rect x="41.2" y="928" width="54.2" height="28" fill="url(#gBtn)"/><polygon points="41.2,928 95.4,928 91.80000000000001,931.6 44.800000000000004,931.6" fill="#5494dc"/><polygon points="41.2,928 44.800000000000004,931.6 44.800000000000004,952.4 41.2,956" fill="#2f68b2"/><polygon points="41.2,956 44.800000000000004,952.4 91.80000000000001,952.4 95.4,956" fill="#2a5da4"/><polygon points="95.4,928 95.4,956 91.80000000000001,952.4 91.80000000000001,931.6" fill="#3570bb"/></g>
<text x="52.7" y="947.4" font-size="13.83" font-weight="bold" font-style="normal" fill="#fafafa" textLength="31.0" lengthAdjust="spacingAndGlyphs" >2012</text>
<g filter="url(#shTag)"><rect x="41.2" y="971.5" width="54.2" height="27.700000000000045" fill="url(#gBtn)"/><polygon points="41.2,971.5 95.4,971.5 91.80000000000001,975.1 44.800000000000004,975.1" fill="#5494dc"/><polygon points="41.2,971.5 44.800000000000004,975.1 44.800000000000004,995.6 41.2,999.2" fill="#2f68b2"/><polygon points="41.2,999.2 44.800000000000004,995.6 91.80000000000001,995.6 95.4,999.2" fill="#2a5da4"/><polygon points="95.4,971.5 95.4,999.2 91.80000000000001,995.6 91.80000000000001,975.1" fill="#3570bb"/></g>
<text x="52.7" y="990.8" font-size="13.83" font-weight="bold" font-style="normal" fill="#fafafa" textLength="31.0" lengthAdjust="spacingAndGlyphs" >2013</text>
<g filter="url(#shTag)"><rect x="41.2" y="1016.5" width="54.2" height="27.5" fill="url(#gBtn)"/><polygon points="41.2,1016.5 95.4,1016.5 91.80000000000001,1020.1 44.800000000000004,1020.1" fill="#5494dc"/><polygon points="41.2,1016.5 44.800000000000004,1020.1 44.800000000000004,1040.4 41.2,1044" fill="#2f68b2"/><polygon points="41.2,1044 44.800000000000004,1040.4 91.80000000000001,1040.4 95.4,1044" fill="#2a5da4"/><polygon points="95.4,1016.5 95.4,1044 91.80000000000001,1040.4 91.80000000000001,1020.1" fill="#3570bb"/></g>
<text x="52.7" y="1035.7" font-size="13.83" font-weight="bold" font-style="normal" fill="#fafafa" textLength="31.0" lengthAdjust="spacingAndGlyphs" >2014</text>
<g filter="url(#shTag)"><rect x="41.2" y="1068" width="54.2" height="28" fill="url(#gBtn)"/><polygon points="41.2,1068 95.4,1068 91.80000000000001,1071.6 44.800000000000004,1071.6" fill="#5494dc"/><polygon points="41.2,1068 44.800000000000004,1071.6 44.800000000000004,1092.4 41.2,1096" fill="#2f68b2"/><polygon points="41.2,1096 44.800000000000004,1092.4 91.80000000000001,1092.4 95.4,1096" fill="#2a5da4"/><polygon points="95.4,1068 95.4,1096 91.80000000000001,1092.4 91.80000000000001,1071.6" fill="#3570bb"/></g>
<text x="52.7" y="1087.4" font-size="13.83" font-weight="bold" font-style="normal" fill="#fafafa" textLength="31.0" lengthAdjust="spacingAndGlyphs" >2015</text>
<g filter="url(#shTag)"><rect x="41.2" y="1112" width="54.2" height="28" fill="url(#gBtn)"/><polygon points="41.2,1112 95.4,1112 91.80000000000001,1115.6 44.800000000000004,1115.6" fill="#5494dc"/><polygon points="41.2,1112 44.800000000000004,1115.6 44.800000000000004,1136.4 41.2,1140" fill="#2f68b2"/><polygon points="41.2,1140 44.800000000000004,1136.4 91.80000000000001,1136.4 95.4,1140" fill="#2a5da4"/><polygon points="95.4,1112 95.4,1140 91.80000000000001,1136.4 91.80000000000001,1115.6" fill="#3570bb"/></g>
<text x="52.7" y="1131.4" font-size="13.83" font-weight="bold" font-style="normal" fill="#fafafa" textLength="31.0" lengthAdjust="spacingAndGlyphs" >2016</text>
<text x="143.9" y="945.6" font-size="14.04" font-weight="normal" font-style="normal" fill="#111" textLength="50.0" lengthAdjust="spacingAndGlyphs" >462,423</text>
<polygon points="137.7,972.6 168.7,960.8 199.7,972.6 199.7,1000.6 168.7,989.9 137.7,1000.6" fill="none" stroke="#c0504d" stroke-width="2.8" stroke-linejoin="miter"/>
<text x="143.9" y="986.5" font-size="14.04" font-weight="normal" font-style="normal" fill="#111" textLength="50.0" lengthAdjust="spacingAndGlyphs" >477,204</text>
<polygon points="137.7,1009.6 168.7,1020.8 199.7,1009.6 199.7,1038.6 168.7,1049.6 137.7,1038.6" fill="none" stroke="#9bbb59" stroke-width="2.8" stroke-linejoin="miter"/>
<text x="143.9" y="1035.0" font-size="14.04" font-weight="normal" font-style="normal" fill="#111" textLength="50.0" lengthAdjust="spacingAndGlyphs" >476,196</text>
<polygon points="137.7,1068.2 168.7,1056.4 199.7,1068.2 199.7,1096.6 168.7,1085.3 137.7,1096.6" fill="none" stroke="#c0504d" stroke-width="2.8" stroke-linejoin="miter"/>
<text x="143.9" y="1082.5" font-size="14.04" font-weight="normal" font-style="normal" fill="#111" textLength="50.0" lengthAdjust="spacingAndGlyphs" >489,606</text>
<polygon points="137.7,1116.2 168.7,1104.4 199.7,1116.2 199.7,1145.2 168.7,1133.3 137.7,1145.2" fill="none" stroke="#c0504d" stroke-width="2.8" stroke-linejoin="miter"/>
<text x="143.9" y="1129.7" font-size="14.04" font-weight="normal" font-style="normal" fill="#111" textLength="50.0" lengthAdjust="spacingAndGlyphs" >521,466</text>
<text x="298.7" y="945.7" font-size="14.04" font-weight="normal" font-style="normal" fill="#111" textLength="42.4" lengthAdjust="spacingAndGlyphs" >17,522</text>
<polygon points="288.4,961.2 319.4,972.7 350.4,961.2 350.4,991.0 319.4,1001.2 288.4,991.0" fill="none" stroke="#9bbb59" stroke-width="2.8" stroke-linejoin="miter"/>
<text x="298.7" y="988.1" font-size="14.04" font-weight="normal" font-style="normal" fill="#111" textLength="42.4" lengthAdjust="spacingAndGlyphs" >12,985</text>
<polygon points="288.4,1021.6 319.4,1009.8 350.4,1021.6 350.4,1049.6 319.4,1038.1 288.4,1049.6" fill="none" stroke="#c0504d" stroke-width="2.8" stroke-linejoin="miter"/>
<text x="298.7" y="1035.6" font-size="14.04" font-weight="normal" font-style="normal" fill="#111" textLength="42.4" lengthAdjust="spacingAndGlyphs" >13,030</text>
<polygon points="288.4,1057.6 319.4,1069.3 350.4,1057.6 350.4,1086.7 319.4,1098.4 288.4,1086.7" fill="none" stroke="#9bbb59" stroke-width="2.8" stroke-linejoin="miter"/>
<text x="298.7" y="1084.7" font-size="14.04" font-weight="normal" font-style="normal" fill="#111" textLength="42.4" lengthAdjust="spacingAndGlyphs" >11,552</text>
<polygon points="288.4,1116.1 319.4,1104.4 350.4,1116.1 350.4,1145.0 319.4,1133.4 288.4,1145.0" fill="none" stroke="#c0504d" stroke-width="2.8" stroke-linejoin="miter"/>
<text x="298.7" y="1128.0" font-size="14.04" font-weight="normal" font-style="normal" fill="#111" textLength="42.4" lengthAdjust="spacingAndGlyphs" >11,921</text>
<text x="452.9" y="945.7" font-size="14.04" font-weight="normal" font-style="normal" fill="#111" textLength="35.4" lengthAdjust="spacingAndGlyphs" >6,917</text>
<polygon points="440.9,960.2 471.4,971.5 501.9,960.2 501.9,989.5 471.4,1000.2 440.9,989.5" fill="none" stroke="#9bbb59" stroke-width="2.8" stroke-linejoin="miter"/>
<text x="452.9" y="988.1" font-size="14.04" font-weight="normal" font-style="normal" fill="#111" textLength="35.4" lengthAdjust="spacingAndGlyphs" >6,915</text>
<polygon points="440.9,1008.0 471.4,1019.0 501.9,1008.0 501.9,1037.4 471.4,1048.3 440.9,1037.4" fill="none" stroke="#9bbb59" stroke-width="2.8" stroke-linejoin="miter"/>
<text x="452.9" y="1037.2" font-size="14.04" font-weight="normal" font-style="normal" fill="#111" textLength="35.4" lengthAdjust="spacingAndGlyphs" >6,674</text>
<polygon points="440.9,1068.8 471.4,1057.6 501.9,1068.8 501.9,1097.2 471.4,1086.0 440.9,1097.2" fill="none" stroke="#c0504d" stroke-width="2.8" stroke-linejoin="miter"/>
<text x="452.9" y="1083.0" font-size="14.04" font-weight="normal" font-style="normal" fill="#111" textLength="35.4" lengthAdjust="spacingAndGlyphs" >6,706</text>
<polygon points="440.9,1117.4 471.4,1106.0 501.9,1117.4 501.9,1145.8 471.4,1134.5 440.9,1145.8" fill="none" stroke="#c0504d" stroke-width="2.8" stroke-linejoin="miter"/>
<text x="452.9" y="1130.5" font-size="14.04" font-weight="normal" font-style="normal" fill="#111" textLength="35.4" lengthAdjust="spacingAndGlyphs" >7,152</text>
<rect x="533" y="1039.3" width="198" height="98" rx="15" fill="#fff" stroke="#a9b9d2" stroke-width="0.9" stroke-dasharray="3 1.6"/>
<text x="549.1" y="1065.4" font-size="12.06" font-weight="bold" font-style="normal" fill="#111" textLength="31.2" lengthAdjust="spacingAndGlyphs" >Note:</text>
<polygon points="549.9,1074.4 563.4,1080.8 576.9,1074.4 576.9,1087.0 563.4,1092.4 549.9,1087.0" fill="none" stroke="#9bbb59" stroke-width="2.2" stroke-linejoin="miter"/>
<text x="580.8" y="1084.7" font-size="12.48" font-weight="normal" font-style="normal" fill="#111" textLength="52.3" lengthAdjust="spacingAndGlyphs" >Decrease</text>
<polygon points="549.9,1107.0 563.4,1101.2 576.9,1107.0 576.9,1120.6 563.4,1113.0 549.9,1120.6" fill="none" stroke="#c0504d" stroke-width="2.2" stroke-linejoin="miter"/>
<text x="580.8" y="1116.5" font-size="12.48" font-weight="normal" font-style="normal" fill="#111" textLength="47.7" lengthAdjust="spacingAndGlyphs" >Increase</text>
<text x="403.3" y="1176.7" font-size="12.48" font-weight="normal" font-style="italic" fill="#111" textLength="344.5" lengthAdjust="spacingAndGlyphs" >Source: Investigation and Enforcement of the Traffic Department,</text>
<text x="629.3" y="1189.6" font-size="12.48" font-weight="normal" font-style="italic" fill="#111" textLength="118.5" lengthAdjust="spacingAndGlyphs" >Royal Malaysia Police</text>

</svg>
<p id="para">Number of accidents per 100,000 population increased <b>5.0%</b> in 2016 (<b>1,648 cases</b>) compared to 2015 (<b>1,570 cases</b>).</p>
</body>
</html>
